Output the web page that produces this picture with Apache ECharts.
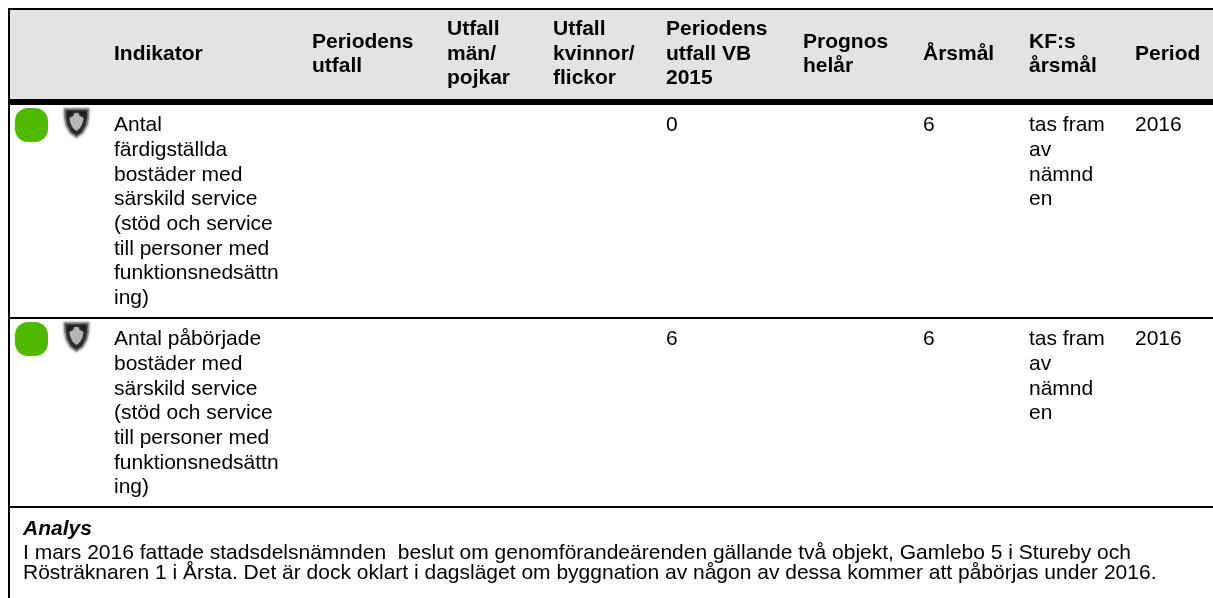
<!DOCTYPE html>
<html><head><meta charset="utf-8">
<style>html,body{margin:0;padding:0;background:#fff}#c{width:1213px;height:598px}</style>
<script src="https://cdn.jsdelivr.net/npm/echarts@6/dist/echarts.min.js"></script>
</head><body><div id="c"></div>
<script>
// Content
const headers = [
  ['Indikator'],
  ['Periodens','utfall'],
  ['Utfall','män/','pojkar'],
  ['Utfall','kvinnor/','flickor'],
  ['Periodens','utfall VB','2015'],
  ['Prognos','helår'],
  ['Årsmål'],
  ['KF:s','årsmål'],
  ['Period']
];
const indicator1 = ['Antal','färdigställda','bostäder med','särskild service','(stöd och service','till personer med','funktionsnedsättn','ing)'];
const indicator2 = ['Antal påbörjade','bostäder med','särskild service','(stöd och service','till personer med','funktionsnedsättn','ing)'];
const outcomeVB = ['0','6'];
const yearGoal = ['6','6'];
const kfGoal = ['tas fram','av','nämnd','en'];
const period = ['2016','2016'];
const analysisTitle = 'Analys';
const analysisLines = [
  'I mars 2016 fattade stadsdelsnämnden  beslut om genomförandeärenden gällande två objekt, Gamlebo 5 i Stureby och',
  'Rösträknaren 1 i Årsta. Det är dock oklart i dagsläget om byggnation av någon av dessa kommer att påbörjas under 2016.'
];

// Layout (separate from the content)
const FONT = '"Liberation Sans", Arial, sans-serif';
const colX = [114,312,447,553,666,803,923,1029,1135];
const LH = 24.7, FS = 21, HFS = 21;
const els = [];
function rect(x,y,w,h,fill,extra){els.push({type:'rect',shape:Object.assign({x,y,width:w,height:h},extra||{}),style:{fill},silent:true});}
function text(x,y,t,o){o=o||{};els.push({type:'text',x,y,silent:true,style:{text:t,fill:o.fill||'#000',font:(o.style||'')+' '+(o.size||FS)+'px '+FONT,textVerticalAlign:'middle'}});}

rect(9,10,1204,89,'#e3e3e3');
rect(8,8,1205,2,'#000');
rect(8,99,1205,6,'#000');
rect(8,317,1205,2,'#000');
rect(8,506,1205,2,'#000');
rect(8,8,2,590,'#000');

headers.forEach((lines,i)=>{
  const cy = 54, start = cy-(lines.length-1)*24.5/2;
  lines.forEach((l,j)=>text(colX[i],start+j*24.5,l,{style:'bold',size:HFS}));
});

function shield(cx,y,w,h,fill,extra){
  const p=(a,b)=>[cx+a*w/2,y+b*h];
  els.push({type:'polygon',silent:true,shape:{points:[p(-1,0),p(1,0),p(0.98,0.3),p(0.85,0.58),p(0.5,0.85),p(0,1),p(-0.5,0.85),p(-0.85,0.58),p(-0.98,0.3)]},style:Object.assign({fill},extra||{})});
}
function crown(cx,y){
  els.push({type:'polygon',silent:true,shape:{points:[[cx-2,y],[cx+2,y],[cx+3,y+3],[cx+7,y+5],[cx+6,y+10],[cx+3.5,y+15],[cx,y+18],[cx-3.5,y+15],[cx-6,y+10],[cx-7,y+5],[cx-3,y+3]]},style:{fill:'#b5b5b5',shadowColor:'#777',shadowBlur:3}});
}
function icons(top){
  rect(15,top,33,34,'#4fb800',{r:13});
  shield(76.5,top+1,24,28,'#1a1a1a',{stroke:'#8a8a8a',lineWidth:1.5,shadowColor:'#999',shadowBlur:3});
  crown(76.5,top+5);
}
function row(lines,top,i){
  icons(top);
  lines.forEach((l,j)=>text(colX[0],top+17.5+j*LH,l));
  text(colX[4],top+17.5,outcomeVB[i]);
  text(colX[6],top+17.5,yearGoal[i]);
  kfGoal.forEach((l,j)=>text(colX[7],top+17.5+j*LH,l));
  text(colX[8],top+17.5,period[i]);
}
row(indicator1,108,0);
row(indicator2,322,1);

text(23,529,analysisTitle,{style:'italic bold'});
analysisLines.forEach((l,j)=>text(23,553+j*20.5,l));

const chart = echarts.init(document.getElementById('c'),null,{renderer:'canvas'});
chart.setOption({animation:false,graphic:{elements:els}});
</script></body></html>
